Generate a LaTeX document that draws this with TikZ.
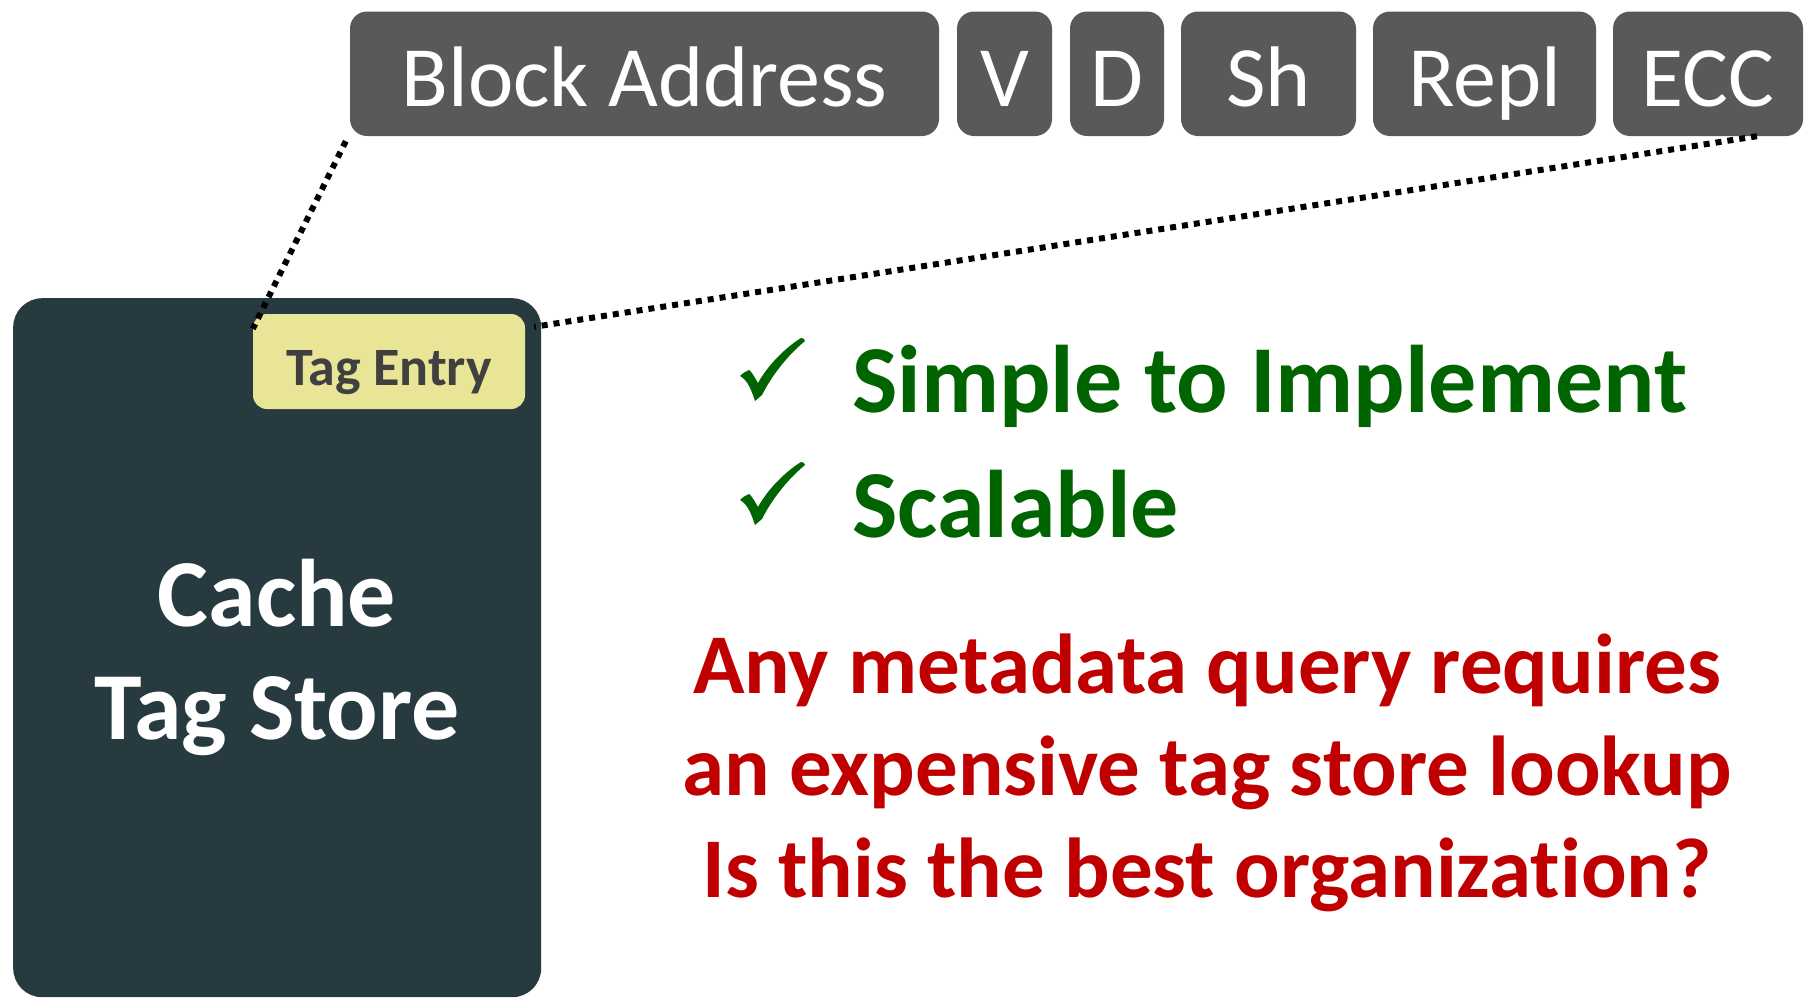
\documentclass[tikz,border=0pt]{standalone}
\usepackage{fontspec}
\setmainfont{Carlito}[Ligatures=NoCommon]
\definecolor{fieldgray}{RGB}{89,89,89}
\definecolor{storecol}{RGB}{38,58,63}
\definecolor{tagyellow}{RGB}{232,229,150}
\definecolor{textgray}{RGB}{64,64,64}
\definecolor{okgreen}{RGB}{0,100,0}
\definecolor{badred}{RGB}{192,0,0}
\begin{document}
\begin{tikzpicture}[x=1pt,y=-1pt,
  field/.style={fill=fieldgray, rounded corners=17pt, text=white, inner xsep=0pt, inner ysep=0pt,
    text height=94.5pt, text depth=30pt, anchor=base, font=\fontsize{86}{100}\selectfont},
  dotline/.style={line width=6pt, dash pattern=on 6pt off 6pt},
  goodtext/.style={anchor=base west, inner sep=0pt, text=okgreen, font=\bfseries\fontsize{96}{100}\selectfont},
  badtext/.style={anchor=base, inner sep=0pt, text=badred, font=\bfseries\fontsize{85}{100}\selectfont},
  storetext/.style={anchor=base, inner sep=0pt, text=white, font=\bfseries\fontsize{96}{100}\selectfont},
  tick/.pic={\fill[okgreen] (20,46) .. controls (23,43) and (26,41) .. (29,40)
      .. controls (32,42) and (35,48) .. (38,53)
      .. controls (48,35) and (65,18) .. (81,8)
      .. controls (83,8) and (85,9) .. (85,11)
      .. controls (68,25) and (52,45) .. (42,65) -- (35,71)
      .. controls (32,62) and (28,50) .. (20,46) -- cycle;}]
\useasboundingbox (0,0) rectangle (1811,999);
% metadata fields
\node[field, minimum width=589pt] (ba) at (644.5,106) {Block Address};
\node[field, minimum width=95pt] (v) at (1004.5,106) {V};
\node[field, minimum width=94pt] (d) at (1117,106) {D};
\node[field, minimum width=175pt] (sh) at (1268.5,106) {Sh};
\node[field, minimum width=223pt] (repl) at (1484.5,106) {Repl};
\node[field, minimum width=190pt] (ecc) at (1708,106) {ECC};
% tag store
\node[fill=storecol, rounded corners=29pt, minimum width=528pt, minimum height=699pt, inner sep=0pt, anchor=north west] (store) at (13,298) {};
\node[storetext] (cache) at (277,626) {Cache};
\node[storetext] (tagstore) at (277,739) {Tag Store};
% tag entry
\node[fill=tagyellow, rounded corners=14pt, minimum width=272pt, inner xsep=0pt, inner ysep=0pt,
  text height=71pt, text depth=24pt, anchor=base, text=textgray, font=\bfseries\fontsize{54}{60}\selectfont] (te) at (389,385) {Tag Entry};
% dotted connectors
\coordinate (p1) at ([xshift=-4pt,yshift=-5pt]ba.south west);
\coordinate (p2) at ([yshift=-15pt]te.north west);
\coordinate (p3) at ([xshift=49pt,yshift=0pt]ecc.south);
\coordinate (p4) at ([xshift=9pt,yshift=-13pt]te.north east);
\draw[dotline] (p1) -- (p2);
\draw[dotline] (p3) -- (p4);
% pros
\pic at (720,330) {tick};
\pic at (720,454) {tick};
\node[goodtext] (simple) at (852,412) {Simple to Implement};
\node[goodtext] (scalable) at (852,537) {Scalable};
% cons
\node[badtext] (l1) at (1207,693) {Any metadata query requires};
\node[badtext] (l2) at (1207,795) {an expensive tag store lookup};
\node[badtext] (l3) at (1207,897) {Is this the best organization?};
\end{tikzpicture}
\end{document}
